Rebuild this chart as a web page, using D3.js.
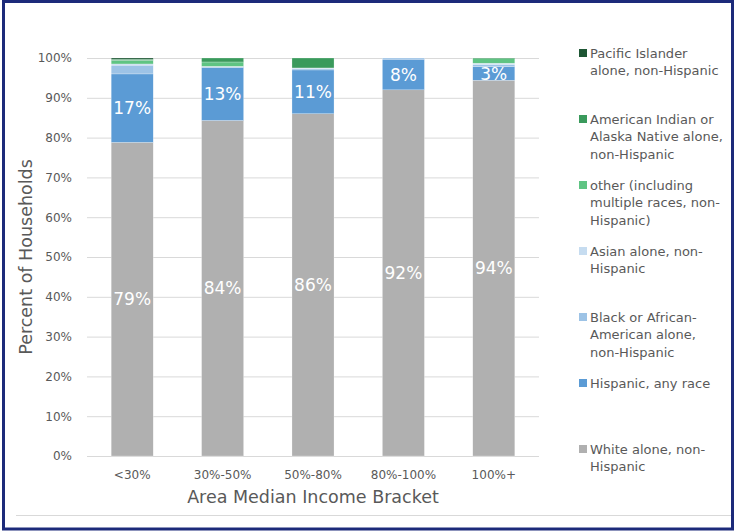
<!DOCTYPE html>
<html>
<head>
<meta charset="utf-8">
<script src="https://cdn.jsdelivr.net/npm/d3@7/dist/d3.min.js"></script>
<style>
  html, body { margin: 0; padding: 0; background: #fff; }
  svg { display: block; }
  text { font-family: "DejaVu Sans", Verdana, sans-serif; }
</style>
</head>
<body>
<svg id="chart" width="734" height="531"></svg>
<script>
// Income brackets along the x axis
const categories = ["<30%", "30%-50%", "50%-80%", "80%-100%", "100%+"];

// Share of households (%) per bracket, stacked bottom to top
const white    = [78.8, 84.3, 86.0, 92.0, 94.4];
const hispanic = [17.2, 13.3, 11.0,  7.7,  3.4];
const black    = [ 2.2,  0.2,  0.3,  0.3,  0.6];
const asian    = [ 0.3,  0.1,  0.2,  0.0,  0.3];
const other    = [ 0.9,  1.1,  0.0,  0.0,  1.1];
const amInd    = [ 0.3,  1.0,  2.5,  0.0,  0.2];
const pacific  = [ 0.3,  0.0,  0.0,  0.0,  0.0];

const yTicks = [0, 10, 20, 30, 40, 50, 60, 70, 80, 90, 100];

const seriesDefs = [
  { key: "white",    values: white,    color: "#b0b0b0", lines: ["White alone, non-", "Hispanic"], showValue: true },
  { key: "hispanic", values: hispanic, color: "#5b9bd5", lines: ["Hispanic, any race"], showValue: true },
  { key: "black",    values: black,    color: "#9dc3e6", lines: ["Black or African-", "American alone,", "non-Hispanic"] },
  { key: "asian",    values: asian,    color: "#c6dcf0", lines: ["Asian alone, non-", "Hispanic"] },
  { key: "other",    values: other,    color: "#5fc483", lines: ["other (including", "multiple races, non-", "Hispanic)"] },
  { key: "amInd",    values: amInd,    color: "#3a9a5c", lines: ["American Indian or", "Alaska Native alone,", "non-Hispanic"] },
  { key: "pacific",  values: pacific,  color: "#1e5634", lines: ["Pacific Islander", "alone, non-Hispanic"] }
];

const rows = categories.map((c, i) => {
  const r = { category: c };
  seriesDefs.forEach(s => { r[s.key] = s.values[i]; });
  return r;
});

const svg = d3.select("#chart");
const W = 734, H = 531;

svg.append("rect").attr("width", W).attr("height", H).attr("fill", "#fff");

const plot = { left: 87, right: 539, top: 58, bottom: 456 };

const x = d3.scaleBand()
  .domain(categories)
  .range([plot.left, plot.right])
  .paddingInner(0.535)
  .paddingOuter(0.2675);

const y = d3.scaleLinear().domain([0, 100]).range([plot.bottom, plot.top]);

// Gridlines and y tick labels
const yAxis = d3.axisLeft(y)
  .tickValues(yTicks)
  .tickSize(-(plot.right - plot.left))
  .tickPadding(15)
  .tickFormat(d => d + "%");

const gy = svg.append("g")
  .attr("transform", `translate(${plot.left},0)`)
  .call(yAxis);
gy.select(".domain").remove();
gy.selectAll(".tick line").attr("stroke", "#d9d9d9").attr("stroke-width", 1);
gy.selectAll(".tick text")
  .attr("fill", "#595959")
  .style("font-size", "12px");

// Stacked bars
const stack = d3.stack().keys(seriesDefs.map(s => s.key));
const stacked = stack(rows);

const colorOf = Object.fromEntries(seriesDefs.map(s => [s.key, s.color]));

const layers = svg.append("g").selectAll("g")
  .data(stacked)
  .join("g")
  .attr("fill", d => colorOf[d.key]);

layers.selectAll("rect")
  .data(d => d)
  .join("rect")
  .attr("x", d => x(d.data.category))
  .attr("width", x.bandwidth())
  .attr("y", d => y(d[1]))
  .attr("height", d => Math.max(0, y(d[0]) - y(d[1])))
  .attr("stroke", "#ffffff")
  .attr("stroke-width", 0.4)
  .attr("stroke-opacity", 0.6);

// Value labels on the white and Hispanic segments
const fmt = d3.format(".0f");
stacked.forEach(layer => {
  const def = seriesDefs.find(s => s.key === layer.key);
  if (!def.showValue) return;
  svg.append("g").selectAll("text")
    .data(layer)
    .join("text")
    .attr("x", d => x(d.data.category) + x.bandwidth() / 2)
    .attr("y", d => (y(d[0]) + y(d[1])) / 2)
    .attr("text-anchor", "middle")
    .attr("dominant-baseline", "central")
    .attr("fill", "#ffffff")
    .style("font-size", "17px")
    .text(d => fmt(d[1] - d[0]) + "%");
});

// X axis labels
const xAxis = d3.axisBottom(x).tickSize(0).tickPadding(14);
const gx = svg.append("g")
  .attr("transform", `translate(0,${plot.bottom})`)
  .call(xAxis);
gx.select(".domain").remove();
gx.selectAll(".tick text").attr("fill", "#595959").style("font-size", "12px");

// Axis titles
svg.append("text")
  .attr("x", (plot.left + plot.right) / 2)
  .attr("y", 503)
  .attr("text-anchor", "middle")
  .attr("fill", "#595959")
  .style("font-size", "17.5px")
  .text("Area Median Income Bracket");

svg.append("text")
  .attr("transform", `translate(32,${(plot.top + plot.bottom) / 2}) rotate(-90)`)
  .attr("text-anchor", "middle")
  .attr("fill", "#595959")
  .style("font-size", "17.5px")
  .text("Percent of Households");

// Legend, top entry first
const legendDefs = seriesDefs.slice().reverse();
const legend = svg.append("g");
const legendTop = 53, legendStep = 66, lineH = 17.5;
legendDefs.forEach((s, i) => {
  const g = legend.append("g").attr("transform", `translate(579,${legendTop + i * legendStep})`);
  g.append("rect")
    .attr("x", 0).attr("y", -4).attr("width", 8).attr("height", 8)
    .attr("fill", s.color);
  const t = g.append("text")
    .attr("x", 11)
    .attr("y", 0)
    .attr("fill", "#595959")
    .style("font-size", "13px");
  s.lines.forEach((ln, j) => {
    t.append("tspan")
      .attr("x", 11)
      .attr("y", j * lineH)
      .attr("dominant-baseline", "central")
      .text(ln);
  });
});

// Divider line near the bottom and the outer frame
svg.append("line")
  .attr("x1", 16).attr("x2", 731)
  .attr("y1", 515.5).attr("y2", 515.5)
  .attr("stroke", "#d9d9d9").attr("stroke-width", 1);

svg.append("rect")
  .attr("x", 3.5).attr("y", 1.5)
  .attr("width", W - 5).attr("height", H - 3.5)
  .attr("fill", "none")
  .attr("stroke", "#1c2a7a")
  .attr("stroke-width", 3);
</script>
</body>
</html>
